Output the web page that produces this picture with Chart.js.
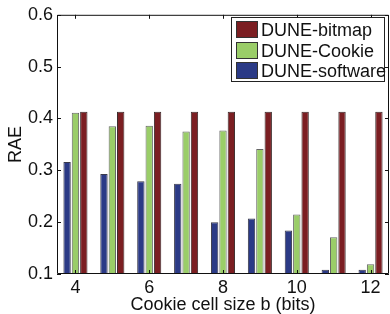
<!DOCTYPE html>
<html>
<head>
<meta charset="utf-8">
<script src="https://cdn.jsdelivr.net/npm/chart.js@4/dist/chart.umd.min.js"></script>
<style>
    body { margin: 0; background: #ffffff; }
    #wrap { position: relative; width: 390px; height: 314px; }
    #legenda {
        position: absolute; left: 231px; top: 17px; width: 152px; height: 63px;
        border: 1px solid #222; background: #fff;
        font-family: "Liberation Sans", Arial, sans-serif; font-size: 18px; color: #111;
    }
    .item { position: absolute; left: 4px; height: 18px; line-height: 18px; white-space: nowrap; }
    .cor { display: inline-block; width: 22px; height: 17px; border: 1px solid #333; vertical-align: top; margin-right: 3px; box-sizing: border-box; margin-top: 0px; }
</style>
</head>
<body>
<div id="wrap">
    <canvas id="grafico" width="390" height="314"></canvas>
    <div id="legenda"></div>
</div>
<script>
const tamanhos = ['4', '5', '6', '7', '8', '9', '10', '11', '12'];
const software = [0.316, 0.293, 0.279, 0.274, 0.200, 0.207, 0.184, 0.108, 0.108];
const cookie = [0.411, 0.385, 0.386, 0.375, 0.377, 0.341, 0.215, 0.171, 0.119];
const bitmap = [0.413, 0.413, 0.413, 0.413, 0.413, 0.413, 0.413, 0.413, 0.413];
const marcasY = [0.1, 0.2, 0.3, 0.4, 0.5, 0.6];

const series = [
    { label: 'DUNE-software', data: software, cor: '#2b3a86', borda: '#3a3a4a' },
    { label: 'DUNE-Cookie', data: cookie, cor: '#9acd68', borda: '#666666' },
    { label: 'DUNE-bitmap', data: bitmap, cor: '#7b1e22', borda: '#3a2a2a' }
];

const fonte = { family: '"Liberation Sans", Arial, sans-serif', size: 18 };
const fonteTitulo = { family: '"Liberation Sans", Arial, sans-serif', size: 18, lineHeight: 1.0 };

// ticks para dentro e moldura estilo matlab
const moldura = {
    id: 'moldura',
    afterDraw(chart) {
        const { ctx, chartArea: a, scales } = chart;
        ctx.save();
        ctx.strokeStyle = '#111';
        ctx.lineWidth = 1;
        ctx.beginPath();
        ctx.rect(a.left + 0.5, a.top + 0.5, a.right - a.left - 1, a.bottom - a.top - 1);
        marcasY.forEach(v => {
            const y = Math.round(scales.y.getPixelForValue(v)) + 0.5;
            ctx.moveTo(a.left, y); ctx.lineTo(a.left + 4, y);
            ctx.moveTo(a.right, y); ctx.lineTo(a.right - 4, y);
        });
        tamanhos.forEach((t, i) => {
            if (Number(t) % 2 !== 0) return;
            const x = Math.round(scales.x.getPixelForValue(i)) + 0.5;
            ctx.moveTo(x, a.top); ctx.lineTo(x, a.top + 4);
            ctx.moveTo(x, a.bottom); ctx.lineTo(x, a.bottom - 4);
        });
        ctx.stroke();
        ctx.restore();
    }
};

new Chart(document.getElementById('grafico'), {
    type: 'bar',
    data: {
        labels: tamanhos,
        datasets: series.map(s => ({
            label: s.label,
            data: s.data,
            backgroundColor: s.cor,
            borderColor: s.borda,
            borderWidth: 1,
            categoryPercentage: 0.68,
            barPercentage: 0.88
        }))
    },
    options: {
        responsive: false,
        animation: false,
        layout: { padding: { top: 14, right: 1, left: 0, bottom: 0 } },
        plugins: { legend: { display: false }, tooltip: { enabled: false } },
        scales: {
            x: {
                grid: { display: false, drawTicks: false, tickLength: 0 },
                border: { display: false },
                ticks: {
                    color: '#111', font: fonte, padding: 3, autoSkip: false, maxRotation: 0,
                    callback: function (v, i) { return Number(tamanhos[i]) % 2 === 0 ? tamanhos[i] : ''; }
                },
                title: { display: true, text: 'Cookie cell size b (bits)', color: '#111', font: fonteTitulo, padding: { top: 0, bottom: 0 } },
                afterFit: s => { s.height = 40; }
            },
            y: {
                min: 0.1, max: 0.6,
                grid: { display: false, drawTicks: false, tickLength: 0 },
                border: { display: false },
                afterBuildTicks: s => { s.ticks = marcasY.map(v => ({ value: v })); },
                ticks: { color: '#111', font: fonte, padding: 4, callback: v => v.toFixed(1) },
                title: { display: true, text: 'RAE', color: '#111', font: fonteTitulo, padding: { top: 7, bottom: 0 } },
                afterFit: s => { s.width = 57; }
            }
        }
    },
    plugins: [moldura]
});

const legenda = document.getElementById('legenda');
series.slice().reverse().forEach((s, i) => {
    const item = document.createElement('div');
    item.className = 'item';
    item.style.top = (3 + i * 20.5) + 'px';
    item.innerHTML = '<span class="cor" style="background:' + s.cor + '"></span>' + s.label;
    legenda.appendChild(item);
});
</script>
</body>
</html>
